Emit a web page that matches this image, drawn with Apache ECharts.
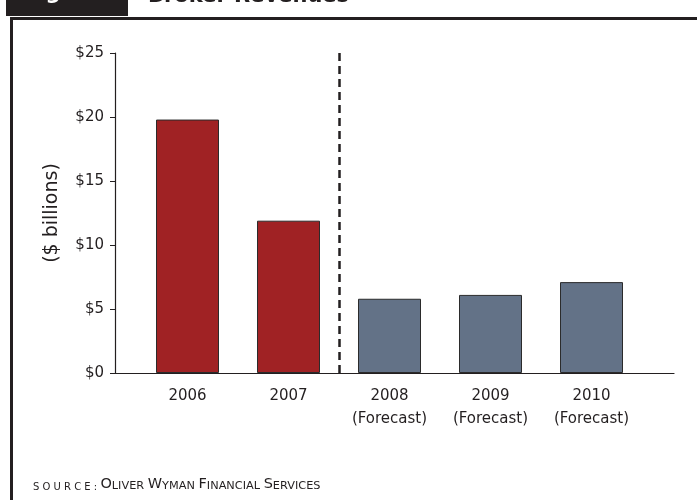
<!DOCTYPE html>
<html>
<head>
<meta charset="utf-8">
<script src="https://cdn.jsdelivr.net/npm/echarts@6/dist/echarts.min.js"></script>
<style>
  html, body { margin: 0; padding: 0; background: #fff; }
  #chart { width: 697px; height: 500px; }
</style>
</head>
<body>
<div id="chart"></div>
<script>
// Broker revenues, $ billions
const categories = ['2006', '2007', '2008\n(Forecast)', '2009\n(Forecast)', '2010\n(Forecast)'];
const revenues = [19.8, 11.9, 5.8, 6.1, 7.1];
const isForecast = [false, false, true, true, true];
const yTicks = [0, 5, 10, 15, 20, 25];

const ACTUAL = '#A02224';
const FORECAST = '#637287';
const INK = '#231f20';
const FONT = '"DejaVu Sans", sans-serif';

// layout of the two overlaid grids
const W = 697;
const frame = { left: 115, right: 23, top: 53, bottom: 127 };
const bars = { left: 137, right: 55, top: 53, bottom: 127 };
const band = (W - bars.left - bars.right) / categories.length;
// frame x axis expressed in category-index units so both grids line up
const frameMin = -0.5 - (bars.left - frame.left) / band;
const frameMax = categories.length - 0.5 + (bars.right - frame.right) / band;
// divider between actual years and forecasts
const firstForecast = isForecast.indexOf(true);
const divider = firstForecast - 0.5;

const chart = echarts.init(document.getElementById('chart'), null, { renderer: 'canvas' });

const barData = revenues.map((v, i) => ({
  value: v,
  itemStyle: { color: isForecast[i] ? FORECAST : ACTUAL }
}));

chart.setOption({
  backgroundColor: '#fff',
  animation: false,
  grid: [frame, bars],
  xAxis: [
    {
      gridIndex: 0, type: 'value', min: frameMin, max: frameMax,
      axisLine: { show: true, onZero: false, lineStyle: { color: INK, width: 1.2 } },
      axisTick: { show: false }, axisLabel: { show: false }, splitLine: { show: false }
    },
    {
      gridIndex: 1, type: 'category', data: categories,
      axisLine: { show: false }, axisTick: { show: false }, splitLine: { show: false },
      axisLabel: { color: INK, fontFamily: FONT, fontSize: 15, lineHeight: 23, margin: 12 }
    }
  ],
  yAxis: [
    {
      gridIndex: 0, type: 'value', min: 0, max: 25, interval: 5,
      name: '($ billions)', nameLocation: 'middle', nameGap: 53, nameRotate: 90,
      nameTextStyle: { color: INK, fontFamily: FONT, fontSize: 19 },
      axisLine: { show: true, onZero: false, lineStyle: { color: INK, width: 1.2 } },
      axisTick: { show: true, length: 5, lineStyle: { color: INK, width: 1 } },
      splitLine: { show: false },
      axisLabel: {
        color: INK, fontFamily: FONT, fontSize: 15, margin: 11,
        formatter: v => yTicks.includes(v) ? '$' + v : ''
      }
    },
    {
      gridIndex: 1, type: 'value', min: 0, max: 25, interval: 5, show: false
    }
  ],
  series: [
    {
      type: 'bar', xAxisIndex: 1, yAxisIndex: 1,
      data: barData, barWidth: 63,
      itemStyle: { borderColor: '#2b2b2b', borderWidth: 1 }
    },
    {
      // carries the dashed actual/forecast divider
      type: 'line', xAxisIndex: 0, yAxisIndex: 0, data: [],
      markLine: {
        silent: true, symbol: 'none', label: { show: false },
        lineStyle: { color: INK, width: 2.5, type: [8, 5] },
        data: [[{ coord: [divider, 25] }, { coord: [divider, 0] }]]
      }
    }
  ],
  graphic: [
    { type: 'rect', shape: { x: 6, y: 0, width: 122, height: 16 }, style: { fill: INK } },
    { type: 'text', style: { x: 24, y: 4, verticalAlign: 'bottom', text: 'Fig. 4-3', fill: '#fff', font: 'bold 21px ' + FONT } },
    { type: 'text', style: { x: 148, y: 7, verticalAlign: 'bottom', text: 'Broker Revenues', fill: INK, font: 'bold 21px ' + FONT } },
    { type: 'rect', shape: { x: 10, y: 17, width: 687, height: 3 }, style: { fill: INK } },
    { type: 'rect', shape: { x: 10, y: 17, width: 3, height: 483 }, style: { fill: INK } },
    {
      type: 'text', left: 33, top: 477,
      style: {
        text: '{t|S O U R C E : }{b|O}{s|LIVER }{b|W}{s|YMAN }{b|F}{s|INANCIAL }{b|S}{s|ERVICES}',
        rich: {
          t: { fontFamily: FONT, fontSize: 10, fill: INK, verticalAlign: 'bottom' },
          s: { fontFamily: FONT, fontSize: 11.3, fill: INK, verticalAlign: 'bottom' },
          b: { fontFamily: FONT, fontSize: 14.5, fill: INK, verticalAlign: 'bottom' }
        }
      }
    }
  ]
});
</script>
</body>
</html>
